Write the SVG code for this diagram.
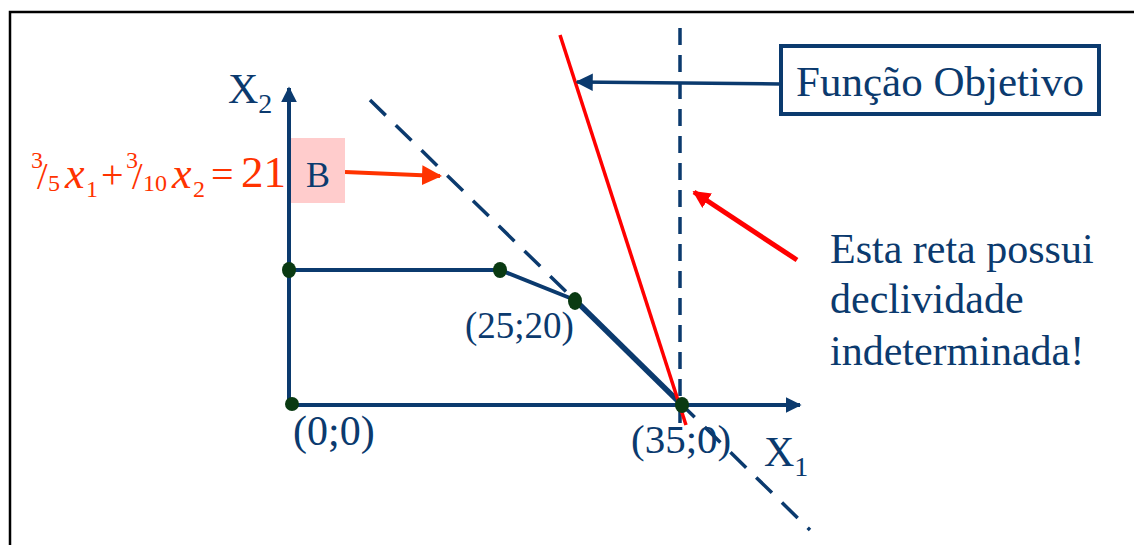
<svg xmlns="http://www.w3.org/2000/svg" width="1134" height="545" viewBox="0 0 1134 545">
<defs>
<style>
text{font-family:"Liberation Serif","DejaVu Serif",serif}
.t{fill:#0B3A6E}
.r{fill:#FF3300}
.ax{stroke:#0B3A6E;stroke-width:4;fill:none}
.pt{fill:#0A3A12}
</style>
<marker id="ah" viewBox="0 0 10 10" refX="9" refY="5" markerWidth="4" markerHeight="4" orient="auto"><path d="M0,0L10,5L0,10z" fill="#0B3A6E"/></marker>
<marker id="ahr" viewBox="0 0 10 10" refX="9" refY="5" markerWidth="3.5" markerHeight="3.5" orient="auto"><path d="M0,0L10,5L0,10z" fill="#FF0000"/></marker>
<marker id="aho" viewBox="0 0 10 10" refX="9" refY="5" markerWidth="5" markerHeight="5" orient="auto"><path d="M0,0L10,5L0,10z" fill="#FF3300"/></marker>
<marker id="ahs" viewBox="0 0 10 10" refX="9" refY="5" markerWidth="5" markerHeight="5" orient="auto"><path d="M0,0L10,5L0,10z" fill="#0B3A6E"/></marker>
</defs>
<rect x="10" y="12" width="1200" height="600" fill="#fff" stroke="#000" stroke-width="2.5"/>
<g id="connectors">
<line x1="289" y1="407" x2="289" y2="88" class="ax" marker-end="url(#ah)"/>
<line x1="289" y1="405" x2="800" y2="405" class="ax" marker-end="url(#ah)"/>
<line x1="370" y1="100" x2="810" y2="530" stroke="#0B3A6E" stroke-width="3.5" stroke-dasharray="22,14"/>
<line x1="680" y1="28" x2="680" y2="425" stroke="#0B3A6E" stroke-width="3.5" stroke-dasharray="17,10"/>
<polyline points="289,270 500,270 575,300" class="ax"/>
<line x1="575" y1="300" x2="682" y2="405" stroke="#0B3A6E" stroke-width="5.5"/>
<line x1="560" y1="35" x2="686" y2="425" stroke="#FF0000" stroke-width="3.5"/>
<line x1="780" y1="84" x2="577" y2="82" stroke="#0B3A6E" stroke-width="3.5" marker-end="url(#ahs)"/>
<line x1="797" y1="260" x2="694" y2="192" stroke="#FF0000" stroke-width="5" marker-end="url(#ahr)"/>
<line x1="345" y1="172" x2="440" y2="176" stroke="#FF3300" stroke-width="4" marker-end="url(#aho)"/>
</g>
<g id="points">
<ellipse cx="289" cy="270" rx="7" ry="8" class="pt"/>
<ellipse cx="500" cy="270" rx="7" ry="8" class="pt"/>
<ellipse cx="575" cy="301" rx="7" ry="9" class="pt"/>
<ellipse cx="682" cy="405" rx="7" ry="8" class="pt"/>
<ellipse cx="292" cy="404" rx="7" ry="7" class="pt"/>
</g>
<g id="labels">
<text x="228" y="103" class="t" font-size="42">X<tspan font-size="28" dy="10">2</tspan></text>
<text x="764" y="466" class="t" font-size="42">X<tspan font-size="28" dy="10">1</tspan></text>
<text x="293" y="445" class="t" font-size="42">(0;0)</text>
<text x="631" y="453" class="t" font-size="41">(35;0)</text>
<text x="465" y="338" class="t" font-size="37">(25;20)</text>
</g>
<g id="B">
<rect x="291" y="138" width="54" height="65" fill="#FFCCCC"/>
<text x="318" y="187" class="t" font-size="36" text-anchor="middle">B</text>
</g>
<g id="formula">
<text class="r" font-size="24"><tspan x="31" y="168">3</tspan><tspan x="37" y="189" font-size="38">/</tspan><tspan x="48" y="191">5</tspan><tspan x="65" y="188" font-size="44" font-style="italic">x</tspan><tspan x="86" y="197" font-size="24">1</tspan><tspan x="101" y="188" font-size="40">+</tspan><tspan x="126" y="168">3</tspan><tspan x="132" y="189" font-size="38">/</tspan><tspan x="143" y="191">10</tspan><tspan x="172" y="188" font-size="44" font-style="italic">x</tspan><tspan x="193" y="197" font-size="24">2</tspan><tspan x="211" y="188" font-size="40">=</tspan><tspan x="241" y="187" font-size="45">21</tspan></text>
</g>
<g id="funcao">
<rect x="781" y="46" width="318" height="68" fill="#fff" stroke="#0B3A6E" stroke-width="4"/>
<text x="940" y="96" class="t" font-size="43" text-anchor="middle">Função Objetivo</text>
</g>
<g id="nota">
<text x="830" y="263" class="t" font-size="42">Esta reta possui</text>
<text x="830" y="313" class="t" font-size="42">declividade</text>
<text x="830" y="365" class="t" font-size="42">indeterminada!</text>
</g>
</svg>
